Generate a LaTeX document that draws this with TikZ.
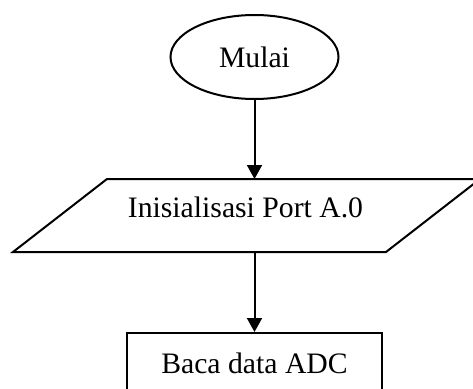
\documentclass[tikz,border=0pt]{standalone}
\usepackage{fontspec}
\setmainfont{Liberation Serif}
\usetikzlibrary{shapes.geometric,arrows.meta}

\begin{document}
\begin{tikzpicture}[
  x=1pt,
  y=-1pt,
  line join=miter,
  font=\fontsize{29.7}{36}\selectfont,
  terminal/.style={
    draw,
    ellipse,
    line width=2pt,
    inner sep=0pt,
    minimum width=168pt,
    minimum height=84pt
  },
  process/.style={
    draw,
    rectangle,
    line width=2pt,
    inner sep=0pt,
    minimum width=255pt,
    minimum height=60pt
  },
  flow/.style={
    line width=2pt,
    -{Triangle[length=14pt,width=15pt]}
  }
]
  \useasboundingbox (0,0) rectangle (473,388);

  % Sudut jajaran genjang
  \coordinate (BL) at (13,252);
  \coordinate (BR) at (386,252);
  \coordinate (TR) at (480,179);
  \coordinate (TL) at (107,179);

  % Bentuk
  \node[terminal] (start) at (254.5,57) {Mulai};
  \draw[line width=2pt]
    (BL) -- (BR) -- (TR) -- (TL) -- cycle;
  \node (init) at (245.5,207) {Inisialisasi Port A.0};
  \node[process] (read) at (254.5,363) {Baca data ADC};

  % Alur
  \draw[flow] (start.south) -- (start.south |- TL);
  \draw[flow] (read.north |- BL) -- (read.north);
\end{tikzpicture}
\end{document}
